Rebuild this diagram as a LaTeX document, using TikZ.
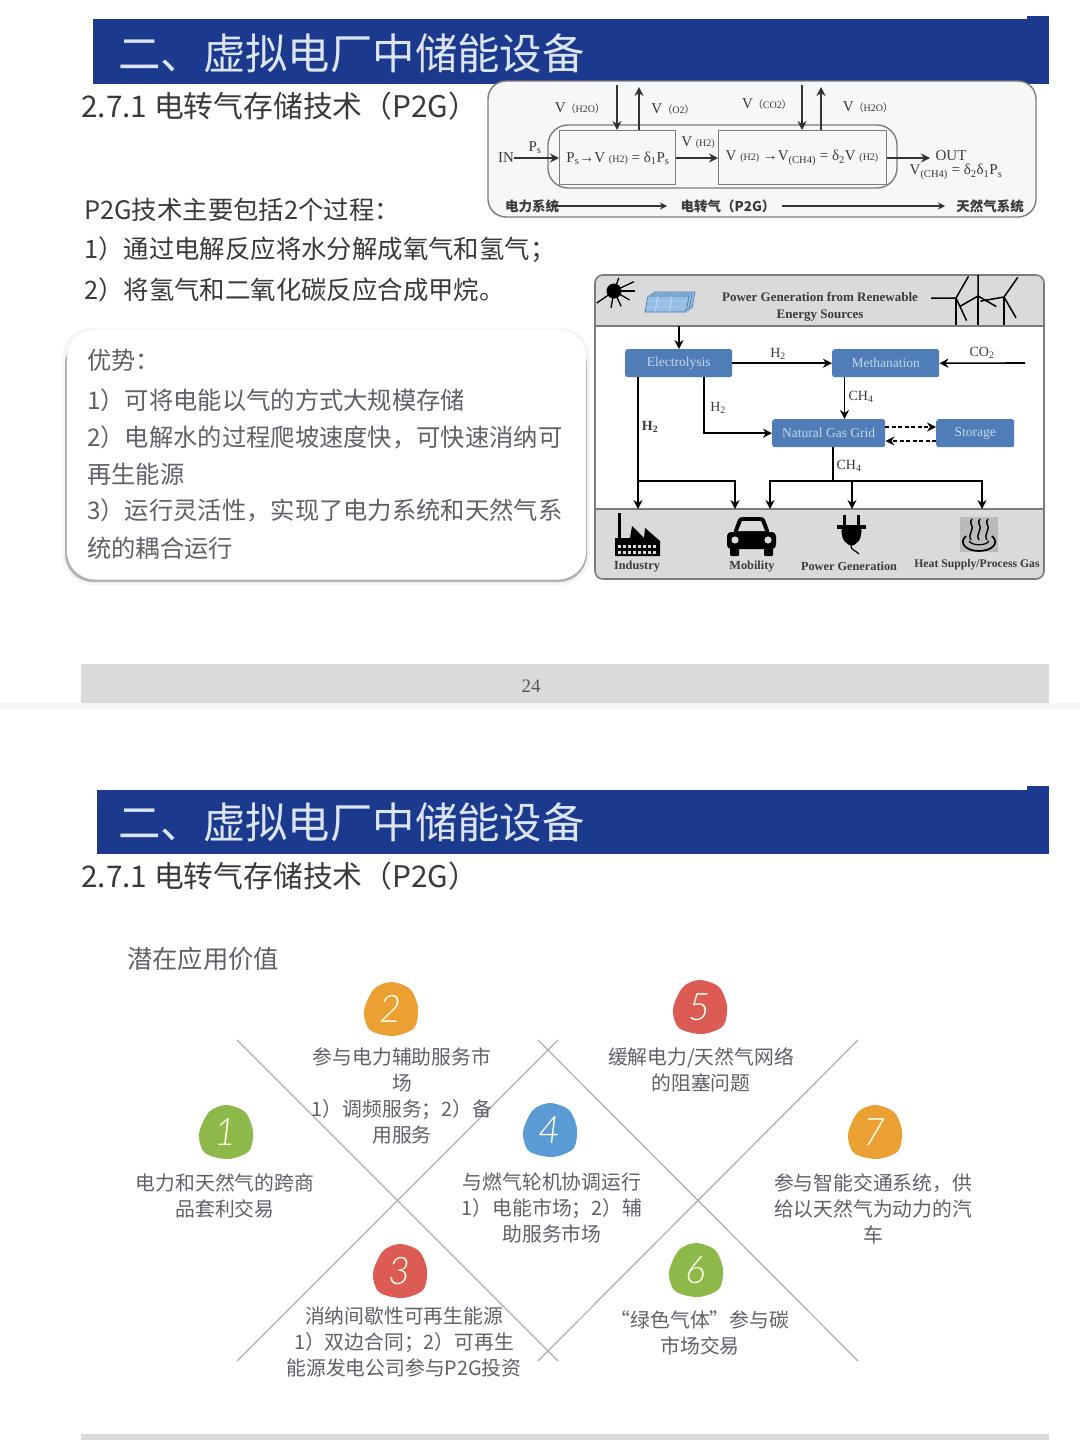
\documentclass[tikz,border=0pt]{standalone}
\usepackage{fontspec}
\setmainfont{Liberation Serif}
\newfontfamily\cjk{Noto Sans CJK SC}
\newfontfamily\numfont{Lato}[ItalicFont=*-LightItalic,UprightFont=*-LightItalic]
\usetikzlibrary{arrows.meta,calc,positioning}
\definecolor{band}{HTML}{1B3A8E}
\definecolor{titlec}{HTML}{DCE4F2}
\definecolor{inkc}{HTML}{3A3A3A}
\definecolor{softc}{HTML}{5F6068}
\definecolor{greyb}{HTML}{DADADA}
\definecolor{frame}{HTML}{7C7C7C}
\definecolor{boxb}{HTML}{4F7DB8}
\definecolor{boxt}{HTML}{C8D6EA}
\definecolor{lineg}{HTML}{A9ADB8}
\definecolor{cgreen}{HTML}{8DB84A}
\definecolor{corange}{HTML}{EBA033}
\definecolor{cred}{HTML}{DC5B55}
\definecolor{cblue}{HTML}{5B9BD5}
\newcommand{\fsz}[1]{\fontsize{#1}{#1}\selectfont}
\newcommand{\sm}[1]{{\fsz{10}#1}}
\newcommand{\smp}[1]{{\fsz{10}{\cjk （}#1{\cjk ）}}}
\newcommand{\blob}[5]{% name,x,y,colour,digit
  \fill[#4,shift={(#2,#3)}] plot[smooth cycle] coordinates {(0,-27)(19,-20)(27,-1)(23,19)(2,27)(-21,21)(-27,2)(-17,-20)};
  \node[blobnum] (#1) at (#2,#3) {#5};}
\tikzset{
  x=1pt,y=-1pt,
  titletext/.style={anchor=west,inner sep=0,text=titlec,font=\cjk\fsz{42.4}},
  headtext/.style={anchor=west,inner sep=0,text=inkc,font=\cjk\fsz{29.8}},
  bodytext/.style={anchor=west,inner sep=0,text=inkc,font=\cjk\fsz{25.4}},
  advtext/.style={anchor=west,inner sep=0,text=softc,font=\cjk\fsz{24.3}},
  captext/.style={inner sep=0,align=center,text=softc,font=\cjk\fontsize{19.8}{26}\selectfont},
  blobnum/.style={inner sep=0,text=white!90!yellow,font=\numfont\fsz{38}},
  crossline/.style={lineg,line width=1.2pt},
  ftext/.style={inner sep=0,text=inkc,font=\fsz{15}},
  fbold/.style={inner sep=0,text=inkc,font=\cjk\bfseries\fsz{13.5}},
  ptbox/.style={draw=frame,line width=1.3pt,fill=white!97!black,minimum height=54pt,inner sep=0},
  farrow/.style={-{Stealth[length=9pt,width=9pt]},line width=1.4pt,black!80},
  garrow/.style={-{Stealth[length=9pt,width=9pt]},line width=1.6pt,black},
  dasharrow/.style={-{Stealth[length=9pt,width=9pt]},line width=1.7pt,black,dash pattern=on 4pt off 2.5pt},
  bluebox/.style={fill=boxb,rounded corners=2.5pt,minimum height=28pt,inner sep=0,text=boxt,font=\fsz{13.5}},
  gtext/.style={inner sep=0,text=inkc,font=\bfseries\fsz{12.3}},
  flabel/.style={inner sep=0,text=inkc,font=\fsz{14}},
}
\begin{document}
\begin{tikzpicture}
\useasboundingbox (0,0) rectangle (1080,1440);
\fill[white] (0,0) rectangle (1080,1440);
% ---------- slide 1 ----------
\fill[band] (93,19) rectangle (1049,84);
\fill[band] (1027,16) rectangle (1049,20);
\node[titletext] (title1) at (118,53) {二、虚拟电厂中储能设备};
\node[headtext] (head1) at (81,106) {2.7.1 电转气存储技术（P2G）};
\node[bodytext] (b1) at (84,210) {P2G技术主要包括2个过程：};
\node[bodytext] (b2) at (84,250) {1）通过电解反应将水分解成氧气和氢气；};
\node[bodytext] (b3) at (84,290) {2）将氢气和二氧化碳反应合成甲烷。};
% advantage panel
\fill[black!4,rounded corners=30pt] (62,328) rectangle (590,585);
\fill[black!30,rounded corners=28pt] (65,336) rectangle (587,582);
\fill[white,rounded corners=28pt] (67,330) rectangle (586,579.5);
\node[advtext] (a0) at (87,360) {优势：};
\node[advtext] (a1) at (87,400) {1）可将电能以气的方式大规模存储};
\node[advtext] (a2) at (87,437) {2）电解水的过程爬坡速度快，可快速消纳可};
\node[advtext] (a2b) at (87,474) {再生能源};
\node[advtext] (a3) at (87,510) {3）运行灵活性，实现了电力系统和天然气系};
\node[advtext] (a3b) at (87,548) {统的耦合运行};
% P2G process diagram
\draw[frame,line width=1.4pt,fill=black!3,rounded corners=18pt] (488,81) rectangle (1036,217);
\draw[frame,line width=1.4pt,rounded corners=20pt] (548,125) rectangle (897,188);
\node[ptbox,minimum width=116pt,anchor=north west] (p1) at (559,130) {};
\node[ptbox,minimum width=168pt,anchor=north west] (p2) at (718,130) {};
\node[ftext] at (618,158) {P\textsubscript{s}→V \sm{(H2)} = δ\textsubscript{1}P\textsubscript{s}};
\node[ftext] at (802,158) {V \sm{(H2)} →V\textsubscript{(CH4)} = δ\textsubscript{2}V \sm{(H2)}};
\coordinate (d1) at (617,85); \coordinate (d1e) at (617,130);
\coordinate (u1) at (639,130); \coordinate (u1e) at (639,87);
\coordinate (d2) at (802,85); \coordinate (d2e) at (802,130);
\coordinate (u2) at (821,130); \coordinate (u2e) at (821,87);
\draw[farrow] (d1) -- (d1e);
\draw[farrow] (u1) -- (u1e);
\draw[farrow] (d2) -- (d2e);
\draw[farrow] (u2) -- (u2e);
\node[ftext] (lin) at (506,158) {IN};
\node[ftext] (lout) at (951,156) {OUT};
\coordinate (outend) at (930,157);
\draw[farrow] (lin.east) -- (lin.east -| p1.west);
\draw[farrow] (p1.east |- lin.east) -- (p2.west |- lin.east);
\draw[farrow] (p2.east |- lin.east) -- (outend |- lin.east);
\node[ftext] (lps) at (535,148) {P\textsubscript{s}};
\node[ftext] (lh2) at (698,143) {V \sm{(H2)}};
\node[ftext] (lv1) at (580,108) {V\smp{H2O}};
\node[ftext] (lv2) at (673,109) {V\smp{O2}};
\node[ftext] (lv3) at (767,104) {V\smp{CO2}};
\node[ftext] (lv4) at (868,107) {V\smp{H2O}};
\node[ftext] (lout2) at (956,172) {V\textsubscript{(CH4)} = δ\textsubscript{2}δ\textsubscript{1}P\textsubscript{s}};
\node[fbold] (s1) at (532,206) {电力系统};
\node[fbold] (s2) at (728,206) {电转气（P2G）};
\node[fbold] (s3) at (990,206) {天然气系统};
\coordinate (s1e) at (667,206); \coordinate (s2s) at (782,206); \coordinate (s2e) at (945,206); \coordinate (s1s) at (552,206);
\draw[-{Stealth[length=7pt,width=7pt]},line width=1.1pt,black!80] (s1s) -- (s1e);
\draw[-{Stealth[length=7pt,width=7pt]},line width=1.1pt,black!80] (s2s) -- (s2e);
% P2G flow diagram
\fill[white,rounded corners=8pt] (595,275) rectangle (1044,579);
\begin{scope}
\clip[rounded corners=8pt] (595,275) rectangle (1044,579);
\fill[greyb] (595,275) rectangle (1044,326);
\fill[greyb] (595,509) rectangle (1044,579);
\end{scope}
\draw[frame,line width=1.3pt] (595,326) -- (1044,326) (595,509) -- (1044,509);
\draw[frame,line width=1.6pt,rounded corners=8pt] (595,275) rectangle (1044,579);
\node[inner sep=0,align=center,text=inkc,font=\bfseries\fontsize{13}{17}\selectfont] (src) at (820,307) {Power Generation from Renewable\\Energy Sources};
% sun
\fill[black] (614,291) circle (7.5);
\foreach \a/\r in {-25/22,0/21,30/18,65/17,100/17,145/21,-70/14}
  \draw[black,line width=1.3pt] (614,291) -- ++({\a}:\r);
% solar panels
\foreach \dx/\dy in {6/-4,3/-2,0/0}{
  \draw[cblue!80!black,fill=cblue!65,line width=.7pt,shift={(\dx,\dy)}] (648,296) -- (689,296) -- (686,312) -- (645,312) -- cycle;
  \draw[white!80!cblue,line width=.4pt,shift={(\dx,\dy)}] (647,301) -- (688,301) (646,307) -- (687,307) (658,296) -- (655,312) (672,296) -- (669,312);
}
% wind turbines
\foreach \x/\h/\aa/\ab/\ac/\la in {956/298/-60/65/180/25, 978/296/-90/30/150/21, 1004/297/-55/60/170/24}{
  \draw[black,line width=2.6pt] (\x,325) -- (\x,\h);
  \draw[black,line width=1.5pt] (\x,\h) -- ++({\aa}:{\la}) (\x,\h) -- ++({\ab}:{\la}) (\x,\h) -- ++({\ac}:{\la});
}
% boxes
\node[bluebox,minimum width=107pt,anchor=north west] (elec) at (625,349) {Electrolysis};
\node[bluebox,minimum width=107pt,anchor=north west] (meth) at (832,349) {Methanation};
\node[bluebox,minimum width=113pt,anchor=north west] (ngg) at (772,419) {Natural Gas Grid};
\node[bluebox,minimum width=78pt,anchor=north west] (stor) at (936,419) {Storage};
\coordinate (topin) at (679,326);
\coordinate (co2in) at (1025,363);
\coordinate (ebl) at (638,377); \coordinate (ebr) at (704,377);
\coordinate (eol) at (638,509);
\coordinate (h2j) at (638,481); \coordinate (h2m) at (735,509);
\coordinate (mb) at (844.5,377);
\coordinate (nb) at (833,447); \coordinate (cj) at (833,481);
\coordinate (c1) at (770,509); \coordinate (c2) at (852,509); \coordinate (c3) at (982,509);
\draw[garrow] (topin) -- (topin |- elec.north);
\draw[garrow] (elec.east) -- (meth.west);
\draw[garrow] (co2in) -- (meth.east);
\draw[garrow] (mb) -- (mb |- ngg.north);
\draw[garrow] (ebr) |- (ngg.west);
\draw[garrow] (ebl) -- (eol);
\draw[garrow] (h2j) -| (h2m);
\draw[line width=1.6pt] (nb) -- (cj);
\draw[garrow] (cj) -| (c1);
\draw[garrow] (cj) -| (c3);
\draw[garrow] (cj -| c2) -- (c2);
\draw[dasharrow] (ngg.east |- 0,427) -- (stor.west |- 0,427);
\draw[dasharrow] (stor.west |- 0,441) -- (ngg.east |- 0,441);
\node[flabel] (f1) at (778,354) {H\textsubscript{2}};
\node[flabel] (f2) at (982,353) {CO\textsubscript{2}};
\node[flabel] (f3) at (718,408) {H\textsubscript{2}};
\node[flabel] (f4) at (650,427) {\bfseries H\textsubscript{2}};
\node[flabel] (f5) at (861,397) {CH\textsubscript{4}};
\node[flabel] (f6) at (849,466) {CH\textsubscript{4}};
% factory icon
\fill[black] (618,513) rectangle (621,540);
\fill[black] (615,556) -- (615,538) -- (630,538) -- (632,526) -- (644,538) -- (645,528) -- (660,541) -- (660,556) -- cycle;
\foreach \x in {618,623,628,633,638,643,648,653}
  \foreach \y in {545,551}
    \fill[white!85!black] (\x,\y) rectangle ++(3,3);
% car icon
\fill[black,rounded corners=4pt] (727,532) rectangle (776,549);
\fill[black,rounded corners=3pt] (733,533) -- (739,517) -- (764,517) -- (770,533) -- cycle;
\fill[greyb] (738,531) -- (742,521) -- (761,521) -- (765,531) -- cycle;
\fill[black,rounded corners=1pt] (730,547) rectangle (739,556);
\fill[black,rounded corners=1pt] (764,547) rectangle (773,556);
\fill[greyb] (735,540) circle (3.6);
\fill[greyb] (768,540) circle (3.6);
% plug icon
\fill[black] (843,515) rectangle (846,526);
\fill[black] (857,515) rectangle (860,526);
\fill[black] (837,525) rectangle (866,529);
\fill[black,rounded corners=2pt] (841,529) -- (862,529) -- (860,540) -- (853,546) -- (850,546) -- (843,540) -- cycle;
\draw[black,line width=1.2pt] (851,546) .. controls (851,550) and (855,550) .. (859,554);
% steam icon
\fill[black!27] (960,517) rectangle (998,552);
\foreach \x in {971,979,987}
  \draw[black,line width=1.4pt] (\x,540) .. controls (\x-4,534) and (\x+4,530) .. (\x,524) .. controls (\x-1,522) and (\x,520) .. (\x+1,519);
\draw[black,line width=1.7pt] (966,536) .. controls (958,543) and (966,551) .. (979,551) .. controls (992,551) and (1000,543) .. (992,536);
\draw[black,line width=1.2pt] (969,541) .. controls (972,546) and (986,546) .. (989,541);
\node[gtext] (g1) at (637,567) {Industry};
\node[gtext] (g2) at (752,567) {Mobility};
\node[gtext] (g3) at (849,566) {Power Generation};
\node[gtext,font=\bfseries\fsz{11.7}] (g4) at (977,565) {Heat Supply/Process Gas};
% footer
\fill[greyb] (81,664) rectangle (1049,703);
\node[inner sep=0,text=black!65,font=\fsz{19}] (pg) at (531,686) {24};
\fill[black!4] (0,703) rectangle (1080,709);
% ---------- slide 2 ----------
\fill[band] (97,790) rectangle (1049,854);
\fill[band] (1027,786) rectangle (1049,791);
\node[titletext] (title2) at (118,822) {二、虚拟电厂中储能设备};
\node[headtext] (head2) at (81,876) {2.7.1 电转气存储技术（P2G）};
\node[inner sep=0,anchor=west,text=softc,font=\cjk\fsz{25.3}] (pot) at (127,959) {潜在应用价值};
\draw[crossline] (237,1040) -- (558,1361);
\draw[crossline] (237,1361) -- (558,1040);
\draw[crossline] (538,1040) -- (858,1361);
\draw[crossline] (538,1361) -- (858,1040);
\blob{n1}{226}{1132}{cgreen}{1}
\blob{n2}{391}{1009}{corange}{2}
\blob{n3}{400}{1271}{cred}{3}
\blob{n4}{550}{1130}{cblue}{4}
\blob{n5}{700}{1007}{cred}{5}
\blob{n6}{696}{1270}{cgreen}{6}
\blob{n7}{875}{1132}{corange}{7}
\node[captext] (t1) at (225,1196) {电力和天然气的跨商\\品套利交易};
\node[captext] (t2) at (402,1096) {参与电力辅助服务市\\场\\1）调频服务；2）备\\用服务};
\node[captext] (t3) at (404,1342) {消纳间歇性可再生能源\\1）双边合同；2）可再生\\能源发电公司参与P2G投资};
\node[captext] (t4) at (552,1208) {与燃气轮机协调运行\\1）电能市场；2）辅\\助服务市场};
\node[captext] (t5) at (701,1070) {缓解电力/天然气网络\\的阻塞问题};
\node[captext] (t6) at (700,1333) {“绿色气体”参与碳\\市场交易};
\node[captext] (t7) at (873,1209) {参与智能交通系统，供\\给以天然气为动力的汽\\车};
\fill[greyb] (81,1434) rectangle (1049,1440);
\end{tikzpicture}
\end{document}
